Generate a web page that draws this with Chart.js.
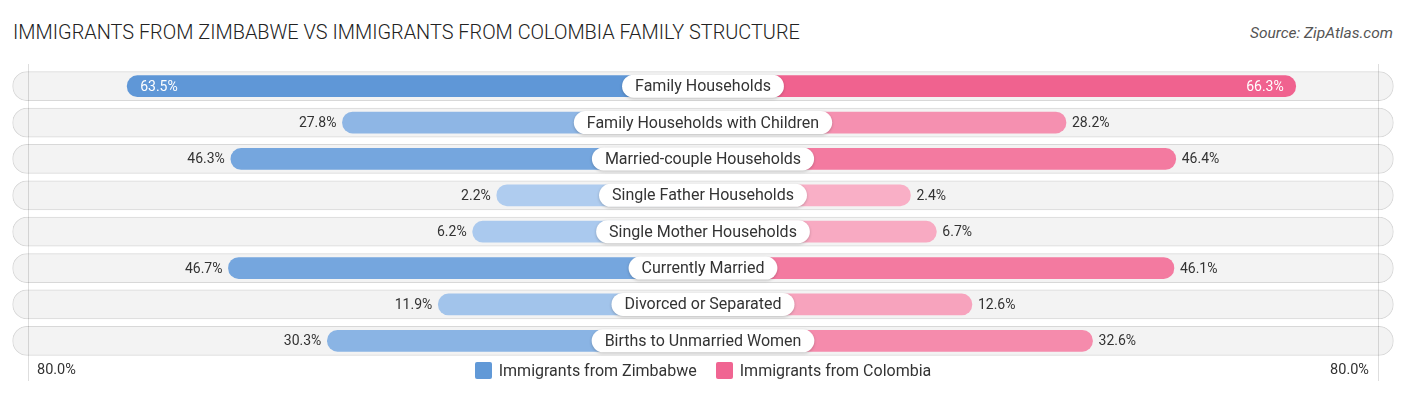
<!DOCTYPE html>
<html>
<head>
<meta charset="utf-8">
<script src="https://cdn.jsdelivr.net/npm/chart.js@4.4.1/dist/chart.umd.min.js"></script>
<style>
html,body{margin:0;padding:0;background:#fff;}
#wrap{position:relative;width:1406px;height:395px;overflow:hidden;font-family:Roboto,"Open Sans",sans-serif;}
#title{position:absolute;left:13px;top:21px;font-size:19.9px;font-weight:300;color:#222;white-space:nowrap;}
#source{position:absolute;right:13px;top:24px;font-size:15.5px;font-style:italic;color:#555;white-space:nowrap;}
canvas{position:absolute;left:0;top:0;}
#legend{position:absolute;left:0;width:1406px;top:361px;height:18px;display:flex;justify-content:center;align-items:center;font-size:16px;color:#333;}
.item{display:flex;align-items:center;margin:0 9.5px;}
.box{width:17px;height:17px;border-radius:2px;margin-right:7px;}
.axl{position:absolute;top:361px;font-size:14.5px;color:#333;line-height:18px;}
</style>
</head>
<body>
<div id="wrap">
  <div id="title">IMMIGRANTS FROM ZIMBABWE VS IMMIGRANTS FROM COLOMBIA FAMILY STRUCTURE</div>
  <div id="source">Source: ZipAtlas.com</div>
  <canvas id="c" width="1406" height="395"></canvas>
  <div id="legend"></div>
  <div class="axl" id="axl-left" style="left:37px;"></div>
  <div class="axl" id="axl-right" style="right:37px;"></div>
</div>
<script>
const categories = [
  "Family Households",
  "Family Households with Children",
  "Married-couple Households",
  "Single Father Households",
  "Single Mother Households",
  "Currently Married",
  "Divorced or Separated",
  "Births to Unmarried Women"
];
const zimbabwe = [63.5, 27.8, 46.3, 2.2, 6.2, 46.7, 11.9, 30.3];
const colombia = [66.3, 28.2, 46.4, 2.4, 6.7, 46.1, 12.6, 32.6];
const seriesNames = ["Immigrants from Zimbabwe", "Immigrants from Colombia"];
const axisLabel = "80.0%";
const axisRef = 80;

// drawing constants (styles, not data)
const BASE = 32;          // bars start this many units from centre (under the label pill)
const EXTENT = 114.6;     // half-width of the scale in units
const blueDark = [91,149,214], blueLight = [178,206,240];
const pinkDark = [240,98,143], pinkLight = [249,178,200];
const maxV = Math.max(...zimbabwe, ...colombia);
function mix(a,b,t){return 'rgb('+a.map((v,i)=>Math.round(b[i]+(v-b[i])*t)).join(',')+')';}
const blueCols = zimbabwe.map(v=>mix(blueDark,blueLight,v/maxV));
const pinkCols = colombia.map(v=>mix(pinkDark,pinkLight,v/maxV));

document.getElementById('legend').innerHTML =
  '<div class="item"><div class="box" style="background:rgb(97,153,215)"></div>'+seriesNames[0]+'</div>'+
  '<div class="item"><div class="box" style="background:rgb(240,101,146)"></div>'+seriesNames[1]+'</div>';
document.getElementById('axl-left').textContent = axisLabel;
document.getElementById('axl-right').textContent = axisLabel;

const overlay = {
  id: 'overlay',
  afterDatasetsDraw(chart){
    const {ctx, scales:{x,y}, chartArea} = chart;
    const cx = x.getPixelForValue(0);
    ctx.save();
    // reference lines at +/-80%
    ctx.strokeStyle = 'rgba(0,0,0,0.13)';
    ctx.lineWidth = 1;
    [-(axisRef+BASE), axisRef+BASE].forEach(v=>{
      const px = Math.round(x.getPixelForValue(v))+0.5;
      ctx.beginPath(); ctx.moveTo(px, chartArea.top-4); ctx.lineTo(px, chartArea.bottom+22); ctx.stroke();
    });
    categories.forEach((c,i)=>{
      const py = y.getPixelForValue(i);
      ctx.font = '14px Roboto';
      ctx.textBaseline = 'middle';
      // left value
      const lv = zimbabwe[i], lpx = x.getPixelForValue(-(lv+BASE));
      const lt = lv.toFixed(1)+'%';
      if (lv >= 60){ ctx.fillStyle='#fff'; ctx.textAlign='left'; ctx.fillText(lt, lpx+13, py+1); }
      else { ctx.fillStyle='#333'; ctx.textAlign='right'; ctx.fillText(lt, lpx-6, py+1); }
      // right value
      const rv = colombia[i], rpx = x.getPixelForValue(rv+BASE);
      const rt = rv.toFixed(1)+'%';
      if (rv >= 60){ ctx.fillStyle='#fff'; ctx.textAlign='right'; ctx.fillText(rt, rpx-12, py+1); }
      else { ctx.fillStyle='#333'; ctx.textAlign='left'; ctx.fillText(rt, rpx+6, py+1); }
      // label pill
      ctx.font = '16px Roboto';
      const w = ctx.measureText(c).width + 26, h = 23;
      ctx.save();
      ctx.shadowColor = 'rgba(0,0,0,0.22)'; ctx.shadowBlur = 3; ctx.shadowOffsetY = 1;
      ctx.fillStyle = '#fff';
      ctx.beginPath(); ctx.roundRect(cx-w/2, py-h/2, w, h, h/2); ctx.fill();
      ctx.restore();
      ctx.fillStyle = '#333'; ctx.textAlign = 'center'; ctx.textBaseline='middle';
      ctx.fillText(c, cx, py+1);
    });
    ctx.restore();
  }
};

new Chart(document.getElementById('c'), {
  type: 'bar',
  data: {
    labels: categories,
    datasets: [
      {
        label: seriesNames[0],
        data: zimbabwe.map(v=>[-(v+BASE), 0]),
        backgroundColor: blueCols,
        barThickness: 21,
        borderRadius: {topLeft:11, bottomLeft:11, topRight:0, bottomRight:0},
        borderSkipped: false,
        grouped: false,
        order: 1
      },
      {
        label: seriesNames[1],
        data: colombia.map(v=>[0, v+BASE]),
        backgroundColor: pinkCols,
        barThickness: 21,
        borderRadius: {topLeft:0, bottomLeft:0, topRight:11, bottomRight:11},
        borderSkipped: false,
        grouped: false,
        order: 1
      },
      {
        label: 'track',
        data: categories.map(()=>[-EXTENT+0.1, EXTENT-0.1]),
        backgroundColor: '#f3f3f3',
        borderColor: '#d8d8d8',
        borderWidth: 1,
        barThickness: 29,
        borderRadius: 15,
        borderSkipped: false,
        grouped: false,
        order: 3
      }
    ]
  },
  options: {
    indexAxis: 'y',
    responsive: false,
    animation: false,
    layout: {padding: {left: 12, right: 12, top: 68, bottom: 36}},
    scales: {
      x: {display: false, min: -EXTENT, max: EXTENT},
      y: {display: false}
    },
    plugins: {legend: {display: false}, tooltip: {enabled: false}}
  },
  plugins: [overlay]
});
</script>
</body>
</html>
